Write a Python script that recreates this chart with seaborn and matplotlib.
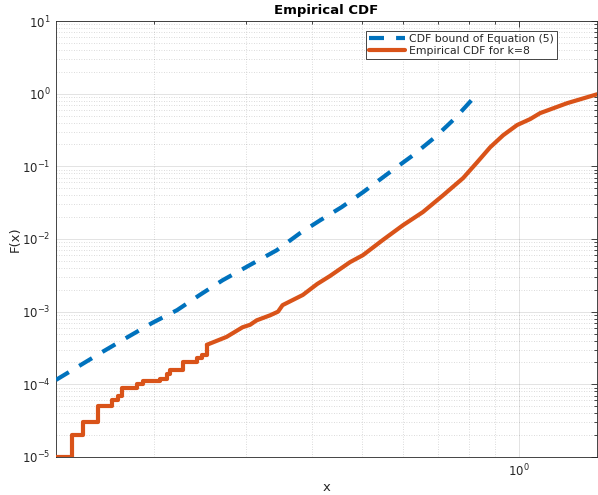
import numpy as np
import pandas as pd
import matplotlib
matplotlib.use("Agg")
import matplotlib.pyplot as plt
import seaborn as sns
from matplotlib.ticker import (LogLocator, NullFormatter, LogFormatterMathtext,
                               FixedLocator)
from matplotlib.lines import Line2D

# ---------------- data ----------------
bound_x = [0.1295, 0.159, 0.178, 0.198, 0.221, 0.244, 0.270, 0.305, 0.343,
           0.380, 0.415, 0.457, 0.502, 0.565, 0.626, 0.690, 0.754, 0.834]
bound_F = [1.15e-4, 2.8e-4, 4.5e-4, 7.0e-4, 1.05e-3, 1.69e-3, 2.7e-3, 4.4e-3, 7.0e-3,
           0.012, 0.018, 0.0275, 0.044, 0.083, 0.142, 0.252, 0.46, 1.02]

# staircase part of the empirical CDF (jump location, level after jump)
step_x = [0.1295, 0.139, 0.146, 0.156, 0.166, 0.170, 0.173, 0.185, 0.190,
          0.205, 0.211, 0.214, 0.2265, 0.241, 0.247, 0.252]
step_F = [1e-5, 2e-5, 3e-5, 5e-5, 6e-5, 7e-5, 9e-5, 1.0e-4, 1.1e-4,
          1.2e-4, 1.4e-4, 1.6e-4, 2.0e-4, 2.3e-4, 2.5e-4, 3.5e-4]

# dense (smooth-looking) part of the empirical CDF
ecdf_x = [0.252, 0.275, 0.295, 0.305, 0.314, 0.333, 0.345, 0.352, 0.385, 0.410,
          0.434, 0.474, 0.502, 0.548, 0.599, 0.654, 0.715, 0.781, 0.831,
          0.880, 0.932, 0.991, 1.05, 1.097, 1.236, 1.41]
ecdf_F = [3.5e-4, 4.5e-4, 6.1e-4, 6.6e-4, 7.6e-4, 8.9e-4, 1.0e-3, 1.23e-3, 1.7e-3, 2.4e-3,
          3.1e-3, 4.8e-3, 6.0e-3, 9.7e-3, 0.0155, 0.0235, 0.040, 0.069, 0.114,
          0.183, 0.268, 0.37, 0.447, 0.54, 0.74, 0.98]

x_major_ticks = [1.0]
y_major_ticks = [1e-5, 1e-4, 1e-3, 1e-2, 1e-1, 1e0, 1e1]

labels = ["CDF bound of Equation (5)", "Empirical CDF for k=8"]
title = "Empirical CDF"
xlabel = "x"
ylabel = "F(x)"

BLUE = "#0072BD"
ORANGE = "#D95319"
TXT = "#262626"

sns.set_theme(style="white")
plt.rcParams["font.family"] = ["DejaVu Sans"]
plt.rcParams["mathtext.fontset"] = "dejavusans"

fig = plt.figure(figsize=(5.98, 4.95), dpi=100)
ax = fig.add_axes([56 / 598, 38 / 495, 541 / 598, 436 / 495])
ax.set_facecolor("white")

df_bound = pd.DataFrame({"x": bound_x, "F": bound_F})
df_step = pd.DataFrame({"x": step_x, "F": step_F})
df_ecdf = pd.DataFrame({"x": ecdf_x, "F": ecdf_F})

sns.lineplot(data=df_bound, x="x", y="F", ax=ax, color=BLUE, lw=3,
             estimator=None, sort=False, zorder=3)
ax.lines[-1].set_dashes((3.6, 2.9))
ax.lines[-1].set_dash_capstyle("butt")
sns.lineplot(data=df_step, x="x", y="F", ax=ax, color=ORANGE, lw=3,
             estimator=None, sort=False, drawstyle="steps-post", zorder=3)
sns.lineplot(data=df_ecdf, x="x", y="F", ax=ax, color=ORANGE, lw=3,
             estimator=None, sort=False, zorder=3)
for ln in ax.lines:
    ln.set_solid_joinstyle("round")

ax.set_xscale("log")
ax.set_yscale("log")
ax.set_xlim(0.1295, 1.41)
ax.set_ylim(1e-5, 10)

ax.yaxis.set_major_locator(FixedLocator(y_major_ticks))
ax.yaxis.set_minor_locator(LogLocator(base=10, subs=np.arange(2, 10), numticks=20))
ax.yaxis.set_minor_formatter(NullFormatter())
ax.xaxis.set_major_locator(FixedLocator(x_major_ticks))
ax.xaxis.set_minor_locator(LogLocator(base=10, subs=np.arange(2, 10), numticks=20))
ax.xaxis.set_minor_formatter(NullFormatter())
ax.xaxis.set_major_formatter(LogFormatterMathtext())
ax.yaxis.set_major_formatter(LogFormatterMathtext())

ax.grid(which="major", color=TXT, alpha=0.13, lw=0.7, ls="-")
ax.grid(which="minor", color=TXT, alpha=0.22, lw=0.6, ls=(0, (1, 2)))
ax.set_axisbelow(True)

ax.tick_params(which="both", direction="in", top=True, right=True,
               color=TXT, labelcolor=TXT, labelsize=8.5, width=0.6)
ax.tick_params(which="major", length=4, pad=4)
ax.tick_params(which="minor", length=2)
for s in ax.spines.values():
    s.set_color(TXT)
    s.set_linewidth(0.6)
    s.set_visible(True)

ax.set_title(title, fontsize=9.5, fontweight="bold", color="black", pad=5)
ax.set_xlabel(xlabel, fontsize=9.5, color=TXT, labelpad=1.5)
ax.set_ylabel(ylabel, fontsize=9.5, color=TXT, labelpad=0)

h1 = Line2D([], [], color=BLUE, lw=3, dashes=(3.6, 2.9))
h2 = Line2D([], [], color=ORANGE, lw=3)
leg = ax.legend([h1, h2], labels, loc="upper right",
                bbox_to_anchor=((557 - 56) / 541, (457 - 31) / 436),
                fontsize=7.8, frameon=True, fancybox=False, framealpha=1,
                edgecolor=TXT, handlelength=3.3, handletextpad=0.4,
                borderpad=0.3, labelspacing=0.15, borderaxespad=0)
leg.get_frame().set_linewidth(0.6)

fig.savefig("out.png", dpi=100)
